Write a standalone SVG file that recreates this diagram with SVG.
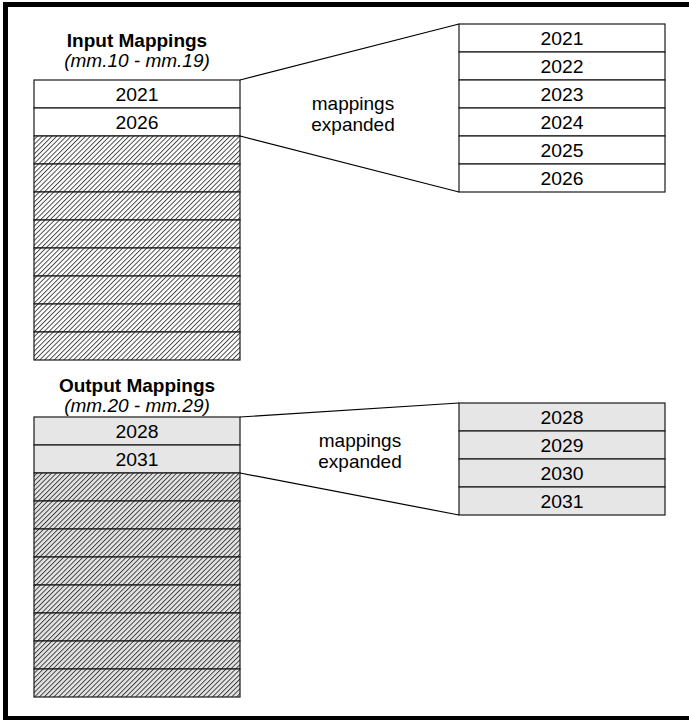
<svg xmlns="http://www.w3.org/2000/svg" width="689" height="720" viewBox="0 0 689 720">
<defs>
<pattern id="hatchW" patternUnits="userSpaceOnUse" width="3.4" height="3.4" patternTransform="rotate(45)">
<rect width="3.4" height="3.4" fill="#fff"/>
<line x1="0.5" y1="0" x2="0.5" y2="3.4" stroke="#000" stroke-width="0.7"/>
</pattern>
<pattern id="hatchG" patternUnits="userSpaceOnUse" width="3.4" height="3.4" patternTransform="rotate(45)">
<rect width="3.4" height="3.4" fill="#e4e4e4"/>
<line x1="0.5" y1="0" x2="0.5" y2="3.4" stroke="#000" stroke-width="0.7"/>
</pattern>
</defs>
<style>
.row{stroke:#1a1a1a;stroke-width:1.2}
.w{fill:#fff}
.g{fill:#e6e6e6}
.hw{fill:url(#hatchW)}
.hg{fill:url(#hatchG)}
text{font-family:"Liberation Sans",Arial,sans-serif;fill:#000;text-anchor:middle}
.num{font-size:18px}
.title{font-size:19px;font-weight:bold}
.sub{font-size:19px;font-style:italic}
.lbl{font-size:19px}
.conn{stroke:#000;stroke-width:1.2;fill:none}
</style>
<rect x="5.5" y="4.5" width="690" height="714" fill="#fff" stroke="#000" stroke-width="5"/>

<g id="input-title">
<text class="title" x="137" y="47">Input Mappings</text>
<text class="sub" x="137" y="67">(mm.10 - mm.19)</text>
</g>
<g id="input-mappings">
<rect class="row w" x="34" y="80" width="206" height="28"/>
<text class="num" x="137" y="100.5" textLength="43" lengthAdjust="spacingAndGlyphs">2021</text>
<rect class="row w" x="34" y="108" width="206" height="28"/>
<text class="num" x="137" y="128.5" textLength="43" lengthAdjust="spacingAndGlyphs">2026</text>
<rect class="row hw" x="34" y="136" width="206" height="28"/>
<rect class="row hw" x="34" y="164" width="206" height="28"/>
<rect class="row hw" x="34" y="192" width="206" height="28"/>
<rect class="row hw" x="34" y="220" width="206" height="28"/>
<rect class="row hw" x="34" y="248" width="206" height="28"/>
<rect class="row hw" x="34" y="276" width="206" height="28"/>
<rect class="row hw" x="34" y="304" width="206" height="28"/>
<rect class="row hw" x="34" y="332" width="206" height="28"/>
</g>
<g id="input-expanded">
<rect class="row w" x="459" y="24" width="206" height="28"/>
<text class="num" x="562" y="44.5" textLength="43" lengthAdjust="spacingAndGlyphs">2021</text>
<rect class="row w" x="459" y="52" width="206" height="28"/>
<text class="num" x="562" y="72.5" textLength="43" lengthAdjust="spacingAndGlyphs">2022</text>
<rect class="row w" x="459" y="80" width="206" height="28"/>
<text class="num" x="562" y="100.5" textLength="43" lengthAdjust="spacingAndGlyphs">2023</text>
<rect class="row w" x="459" y="108" width="206" height="28"/>
<text class="num" x="562" y="128.5" textLength="43" lengthAdjust="spacingAndGlyphs">2024</text>
<rect class="row w" x="459" y="136" width="206" height="28"/>
<text class="num" x="562" y="156.5" textLength="43" lengthAdjust="spacingAndGlyphs">2025</text>
<rect class="row w" x="459" y="164" width="206" height="28"/>
<text class="num" x="562" y="184.5" textLength="43" lengthAdjust="spacingAndGlyphs">2026</text>
</g>
<g id="input-label">
<text class="lbl" x="353" y="110">mappings</text>
<text class="lbl" x="353" y="131">expanded</text>
</g>

<g id="output-title">
<text class="title" x="137" y="392">Output Mappings</text>
<text class="sub" x="137" y="412">(mm.20 - mm.29)</text>
</g>
<g id="output-mappings">
<rect class="row g" x="34" y="417" width="206" height="28"/>
<text class="num" x="137" y="437.5" textLength="43" lengthAdjust="spacingAndGlyphs">2028</text>
<rect class="row g" x="34" y="445" width="206" height="28"/>
<text class="num" x="137" y="465.5" textLength="43" lengthAdjust="spacingAndGlyphs">2031</text>
<rect class="row hg" x="34" y="473" width="206" height="28"/>
<rect class="row hg" x="34" y="501" width="206" height="28"/>
<rect class="row hg" x="34" y="529" width="206" height="28"/>
<rect class="row hg" x="34" y="557" width="206" height="28"/>
<rect class="row hg" x="34" y="585" width="206" height="28"/>
<rect class="row hg" x="34" y="613" width="206" height="28"/>
<rect class="row hg" x="34" y="641" width="206" height="28"/>
<rect class="row hg" x="34" y="669" width="206" height="28"/>
</g>
<g id="output-expanded">
<rect class="row g" x="459" y="403" width="206" height="28"/>
<text class="num" x="562" y="423.5" textLength="43" lengthAdjust="spacingAndGlyphs">2028</text>
<rect class="row g" x="459" y="431" width="206" height="28"/>
<text class="num" x="562" y="451.5" textLength="43" lengthAdjust="spacingAndGlyphs">2029</text>
<rect class="row g" x="459" y="459" width="206" height="28"/>
<text class="num" x="562" y="479.5" textLength="43" lengthAdjust="spacingAndGlyphs">2030</text>
<rect class="row g" x="459" y="487" width="206" height="28"/>
<text class="num" x="562" y="507.5" textLength="43" lengthAdjust="spacingAndGlyphs">2031</text>
</g>
<g id="output-label">
<text class="lbl" x="360" y="447">mappings</text>
<text class="lbl" x="360" y="468">expanded</text>
</g>

<g id="connectors">
<path class="conn" d="M240,80 L459,24"/>
<path class="conn" d="M240,136 L459,192"/>
<path class="conn" d="M240,417 L459,403"/>
<path class="conn" d="M240,473 L459,515"/>
</g>
</svg>
